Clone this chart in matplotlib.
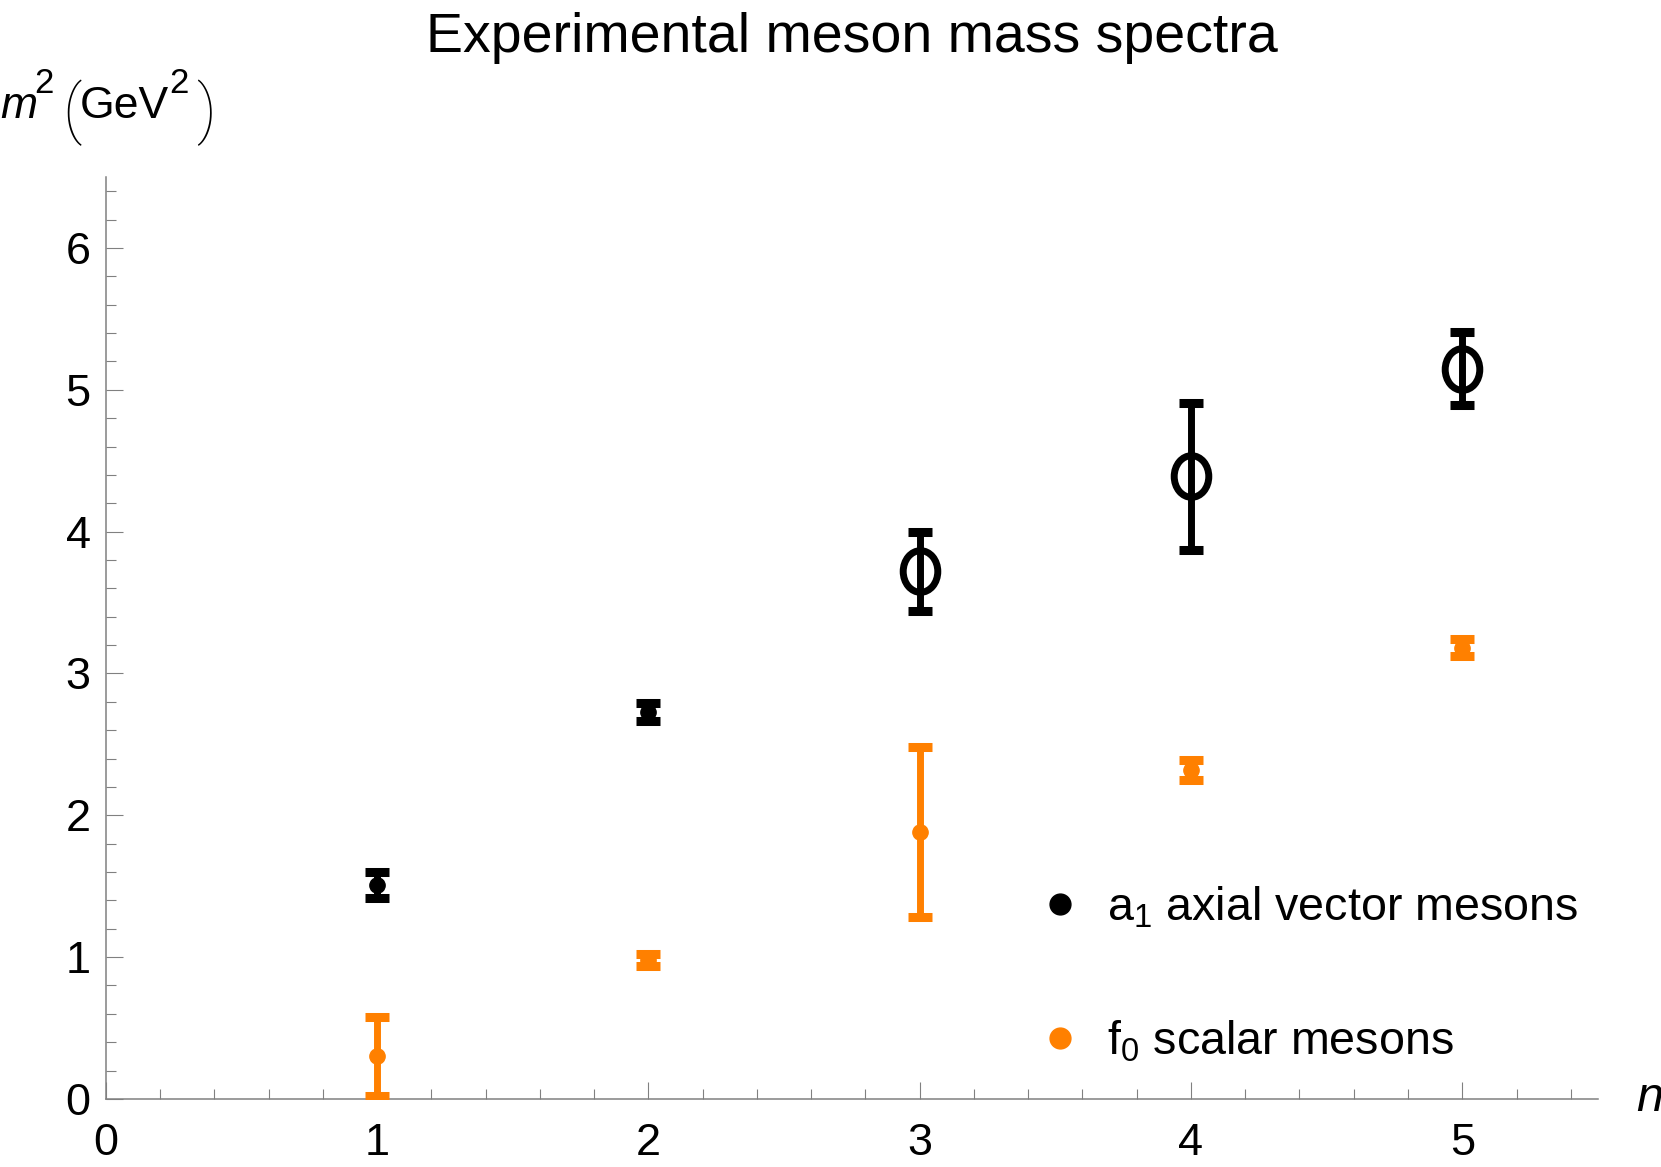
import matplotlib
matplotlib.use("Agg")
import matplotlib.pyplot as plt
from matplotlib.path import Path
from matplotlib.transforms import Affine2D
from matplotlib.lines import Line2D

plt.rcParams["font.family"] = ["Liberation Sans", "DejaVu Sans"]
plt.rcParams["mathtext.fontset"] = "custom"
plt.rcParams["mathtext.rm"] = "Liberation Sans"
plt.rcParams["mathtext.it"] = "Liberation Sans:italic"

# data
n_vals = [1, 2, 3, 4, 5]
a1_m2 = [1.51, 2.73, 3.72, 4.39, 5.15]
a1_err = [0.09, 0.065, 0.28, 0.52, 0.26]
a1_open = [False, False, True, True, True]
f0_m2 = [0.30, 0.98, 1.88, 2.32, 3.18]
f0_err = [0.28, 0.04, 0.60, 0.07, 0.06]

ORANGE = "#FF8000"
GRAY = "#808080"

fig = plt.figure(figsize=(16.61, 11.67), dpi=100)
ax = fig.add_axes([0.0638, 0.0583, 0.8982, 0.79])

err_style = dict(fmt="none", elinewidth=5, capsize=8.3, capthick=6.5, zorder=3)

ax.errorbar(n_vals, a1_m2, yerr=a1_err, ecolor="black", **err_style)
ax.errorbar(n_vals, f0_m2, yerr=f0_err, ecolor=ORANGE, **err_style)

# markers: small filled dots, open ellipses for the higher a1 states
ellipse = Path.unit_circle().transformed(Affine2D().scale(0.83, 1.0))
for n, m2, is_open in zip(n_vals, a1_m2, a1_open):
    if is_open:
        ax.plot(n, m2, marker=ellipse, ms=30, mfc="none", mec="black",
                mew=5, zorder=4)
    else:
        ax.plot(n, m2, "o", ms=11, color="black", zorder=4)
ax.plot(n_vals, f0_m2, "o", ms=11, color=ORANGE, ls="none", zorder=4)

ax.set_xlim(0, 5.5)
ax.set_ylim(0, 6.5)
ax.set_xticks(range(0, 6))
ax.set_yticks(range(0, 7))
ax.set_xticks([i * 0.2 for i in range(28)], minor=True)
ax.set_yticks([i * 0.2 for i in range(33)], minor=True)

for side in ["top", "right"]:
    ax.spines[side].set_visible(False)
for side in ["left", "bottom"]:
    ax.spines[side].set_color(GRAY)
    ax.spines[side].set_linewidth(1.1)

ax.tick_params(which="both", direction="in", color=GRAY, width=0.8,
               labelsize=32.5)
ax.tick_params(which="major", length=12)
ax.tick_params(which="minor", length=7)
ax.tick_params(axis="y", pad=11)
ax.tick_params(axis="x", pad=17)

ax.set_title("Experimental meson mass spectra", fontsize=40, pad=90)

# y label, built piece by piece so the parentheses can be tall and thin
fig.text(0.0, 0.8989, "m", fontsize=32, style="italic", va="baseline")
fig.text(0.0205, 0.9203, "2", fontsize=25, va="baseline")
fig.text(0.0372, 0.9032, "(", fontsize=47, family="Roboto",
         fontweight="light", va="center")
fig.text(0.0482, 0.8989, "GeV", fontsize=32, va="baseline")
fig.text(0.1017, 0.9203, "2", fontsize=25, va="baseline")
fig.text(0.1180, 0.9032, ")", fontsize=47, family="Roboto",
         fontweight="light", va="center")

ax.text(1.026, 0.0, "n", transform=ax.transAxes, fontsize=35,
        style="italic", ha="left", va="center")

handles = [
    Line2D([], [], marker="o", ls="none", color="black", ms=15),
    Line2D([], [], marker="o", ls="none", color=ORANGE, ms=15),
]
labels = [r"a$_1$ axial vector mesons", r"f$_0$ scalar mesons"]
ax.legend(handles, labels, loc="upper left", bbox_to_anchor=(0.596, 0.278),
          frameon=False, fontsize=33.6, labelspacing=1.9, handletextpad=0.5,
          handlelength=1.0)

fig.savefig("out.png", dpi=100)
